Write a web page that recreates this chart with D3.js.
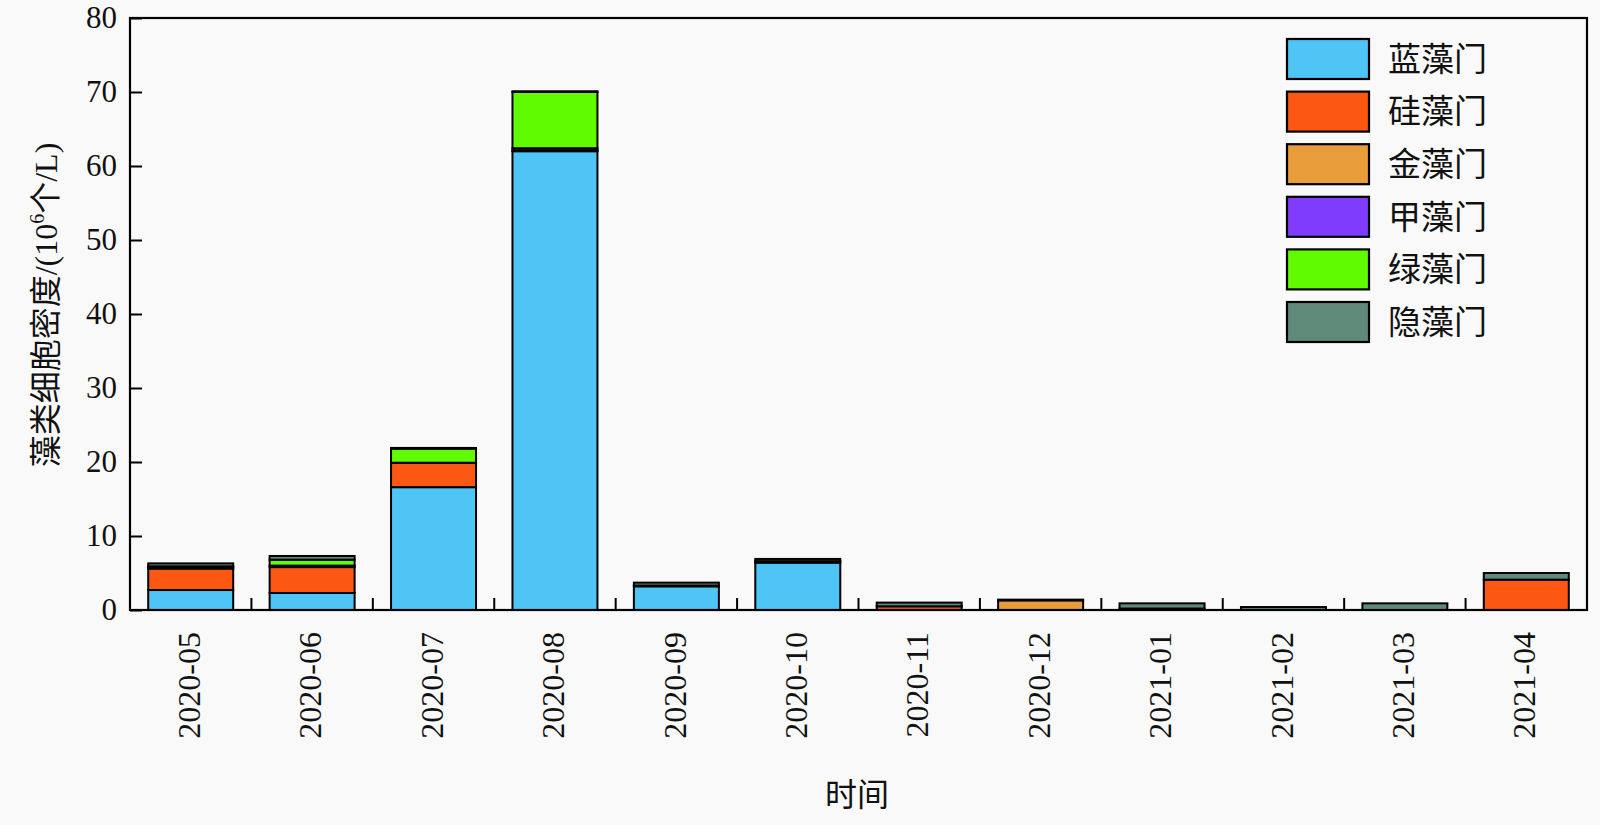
<!DOCTYPE html>
<html><head><meta charset="utf-8">
<script src="https://cdn.jsdelivr.net/npm/d3@7/dist/d3.min.js"></script>
<style>
html,body{margin:0;padding:0;background:#f9f9f9;}
svg{display:block;}
text{fill:#111;}
</style></head>
<body>
<svg id="chart" width="1600" height="825"></svg>
<script>
const months = ["2020-05","2020-06","2020-07","2020-08","2020-09","2020-10","2020-11","2020-12","2021-01","2021-02","2021-03","2021-04"];
const seriesNames = ["蓝藻门","硅藻门","金藻门","甲藻门","绿藻门","隐藻门"];
const cyanophyta   = [2.7, 2.3, 16.6, 62.0, 3.2, 6.4, 0,   0,   0,   0,   0,   0];
const bacillario   = [2.9, 3.5, 3.3,  0.1,  0,   0,   0.5, 0,   0.2, 0,   0,   4.1];
const chrysophyta  = [0,   0,   0,    0,    0,   0,   0,   1.3, 0,   0,   0,   0];
const pyrrophyta   = [0.2, 0.2, 0,    0.3,  0.1, 0.2, 0,   0,   0,   0,   0,   0];
const chlorophyta  = [0.1, 0.8, 1.9,  7.6,  0,   0,   0,   0,   0,   0,   0,   0];
const cryptophyta  = [0.4, 0.5, 0.1,  0.1,  0.4, 0.3, 0.5, 0.1, 0.7, 0.4, 0.9, 0.9];
const colors = ["#4ec5f4","#fc5713","#e89d3a","#7f3cfd","#60fb00","#5f8a7a"];
const yTicks = [0,10,20,30,40,50,60,70,80];

const seriesVals = [cyanophyta, bacillario, chrysophyta, pyrrophyta, chlorophyta, cryptophyta];
const rows = months.map((m,i)=>{const r={month:m}; seriesNames.forEach((s,k)=>r[s]=seriesVals[k][i]); return r;});

const svg = d3.select("#chart");
const L=130, R=1587, T=18, B=610;
const serif = "'Liberation Serif','Times New Roman',serif";
const cjk = "'Liberation Serif','Noto Sans CJK SC',serif";

const x = d3.scaleBand().domain(months).range([L,R]).paddingInner(0.3).paddingOuter(0.15);
const y = d3.scaleLinear().domain([0,80]).range([B,T]);

const stack = d3.stack().keys(seriesNames)(rows);

// bars
const g = svg.append("g");
stack.forEach((layer,k)=>{
  g.selectAll(null).data(layer.filter(d=>d[1]-d[0]>0)).enter().append("rect")
    .attr("x", d=>x(d.data.month))
    .attr("width", x.bandwidth())
    .attr("y", d=>y(d[1]))
    .attr("height", d=>y(d[0])-y(d[1]))
    .attr("fill", colors[k])
    .attr("stroke","#000").attr("stroke-width",2);
});

// frame
svg.append("rect").attr("x",L).attr("y",T).attr("width",R-L).attr("height",B-T)
  .attr("fill","none").attr("stroke","#000").attr("stroke-width",2.2);

// y axis
const yAxis = d3.axisLeft(y).tickValues(yTicks).tickSize(-12).tickPadding(13);
const ya = svg.append("g").attr("transform",`translate(${L},0)`).call(yAxis);
ya.select(".domain").remove();
ya.selectAll(".tick line").attr("stroke","#000").attr("stroke-width",2);
ya.selectAll(".tick text").attr("font-family",serif).attr("font-size",31).attr("fill","#111");

// x axis: labels centered, ticks at band boundaries
const xAxis = d3.axisBottom(x).tickSize(0).tickPadding(0);
const xa = svg.append("g").attr("transform",`translate(0,${B})`).call(xAxis);
xa.select(".domain").remove();
xa.selectAll(".tick text")
  .attr("font-family",serif).attr("font-size",32).attr("fill","#111")
  .attr("text-anchor","end")
  .attr("transform","rotate(-90)")
  .attr("x",-22).attr("y",-2).attr("dy","0.35em");
const step = x.step();
const bounds = months.slice(1).map(m=>x(m) - (step - x.bandwidth())/2);
svg.append("g").selectAll("line").data(bounds).enter().append("line")
  .attr("x1",d=>d).attr("x2",d=>d).attr("y1",B).attr("y2",B-12)
  .attr("stroke","#000").attr("stroke-width",2);

// axis titles
const yt = svg.append("text").attr("transform",`translate(57,305) rotate(-90)`)
  .attr("text-anchor","middle").attr("font-family",cjk).attr("font-size",32);
yt.append("tspan").text("藻类细胞密度/(10");
yt.append("tspan").text("6").attr("font-size",20).attr("dy",-13);
yt.append("tspan").text("个/L)").attr("dy",13);

svg.append("text").attr("x",857).attr("y",806).attr("text-anchor","middle")
  .attr("font-family",cjk).attr("font-size",32).text("时间");

// legend
const lg = svg.append("g");
seriesNames.forEach((s,k)=>{
  const cy = 59 + k*52.6;
  lg.append("rect").attr("x",1287).attr("y",cy-20).attr("width",82).attr("height",40)
    .attr("fill",colors[k]).attr("stroke","#000").attr("stroke-width",2.2);
  lg.append("text").attr("x",1388).attr("y",cy).attr("dy","0.36em")
    .attr("font-family",cjk).attr("font-size",33).text(s);
});
</script>
</body></html>
